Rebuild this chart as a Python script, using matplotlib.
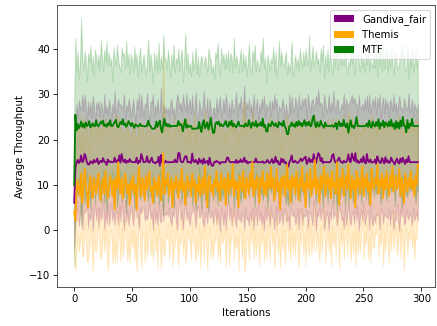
import numpy as np
import matplotlib
matplotlib.use("Agg")
import matplotlib.pyplot as plt
from matplotlib.patches import Patch

series_names = ["Gandiva_fair", "Themis", "MTF"]

mtf_mean = [
    10.0, 25.5, 22.0, 23.5, 22.5, 23.0, 24.0, 22.8, 23.5, 22.6,
    23.8, 23.0, 23.2, 24.1, 22.7, 23.0, 23.6, 23.0, 23.0, 24.3,
    23.1, 22.9, 23.4, 24.0, 23.5, 24.2, 23.0, 23.3, 22.8, 23.6,
    23.2, 24.3, 23.0, 23.0, 23.5, 23.8, 24.4, 23.1, 22.7, 23.2,
    23.9, 23.4, 24.5, 23.2, 23.6, 22.8, 23.3, 24.1, 23.5, 23.0,
    23.7, 23.0, 22.6, 23.4, 23.1, 22.9, 23.0, 23.5, 23.0, 23.0,
    23.0, 22.9, 23.0, 23.0, 24.2, 23.2, 23.0, 22.5, 22.3, 22.5,
    22.5, 24.0, 22.8, 23.6, 24.2, 22.4, 21.6, 23.3, 24.6, 23.0,
    23.5, 22.9, 23.4, 22.8, 23.0, 23.0, 23.0, 23.0, 23.0, 23.0,
    24.1, 23.2, 23.5, 23.0, 21.8, 23.4, 24.5, 22.6, 23.2, 22.8,
    23.0, 23.0, 22.4, 22.4, 22.4, 22.4, 22.5, 22.5, 23.9, 22.4,
    21.7, 23.6, 24.3, 22.5, 23.0, 23.8, 22.2, 23.2, 24.8, 22.8,
    21.5, 21.5, 23.4, 23.9, 23.4, 24.0, 23.0, 23.4, 23.0, 23.0,
    23.6, 24.1, 23.0, 22.8, 23.9, 23.2, 24.2, 22.9, 23.5, 23.0,
    22.7, 23.3, 24.0, 23.0, 23.0, 23.0, 23.1, 22.8, 23.6, 23.0,
    23.0, 24.3, 23.3, 22.6, 23.8, 23.4, 23.0, 24.1, 22.8, 23.4,
    23.1, 23.8, 23.0, 24.6, 22.8, 23.2, 21.8, 21.8, 23.5, 23.0,
    23.0, 24.0, 23.5, 23.0, 23.6, 23.0, 22.7, 23.9, 23.3, 23.6,
    23.0, 24.2, 22.9, 22.5, 21.2, 21.2, 23.0, 23.0, 23.8, 23.0,
    23.4, 22.8, 23.9, 23.0, 24.1, 23.2, 23.7, 22.9, 23.5, 24.3,
    23.0, 23.8, 23.2, 24.0, 23.0, 23.0, 24.6, 25.3, 23.5, 22.7,
    23.9, 23.0, 22.9, 24.2, 23.4, 23.0, 22.6, 23.8, 23.0, 23.0,
    23.0, 23.0, 23.0, 23.2, 22.8, 23.0, 23.7, 22.3, 23.4, 24.0,
    22.9, 23.5, 23.0, 24.4, 23.1, 22.7, 23.6, 21.5, 23.0, 24.3,
    22.8, 23.0, 22.5, 23.4, 25.0, 23.0, 23.0, 23.0, 22.9, 23.0,
    23.0, 23.0, 23.0, 23.6, 22.8, 24.2, 23.0, 22.6, 24.0, 23.2,
    22.9, 23.9, 23.0, 24.5, 22.4, 23.6, 23.1, 24.2, 22.7, 23.8,
    23.4, 22.9, 24.0, 23.0, 24.4, 22.9, 23.5, 22.3, 24.1, 22.6,
    23.8, 22.4, 24.2, 22.9, 25.0, 23.1, 23.0, 21.6, 24.3, 22.5,
    23.5, 23.0, 24.6, 23.0, 23.0, 23.0, 23.0, 23.0,
]

mtf_std = [
    18, 17, 13, 16, 11, 14, 23, 15, 12, 17,
    14, 10, 16, 13, 18, 12, 15, 11, 17, 14,
    13, 16, 12, 18, 15, 11, 17, 14, 19, 13,
    16, 12, 15, 10, 17, 14, 12, 18, 15, 13,
    11, 17, 14, 16, 12, 19, 13, 15, 11, 16,
    14, 12, 18, 13, 16, 11, 15, 17, 12, 14,
    16, 13, 11, 15, 18, 12, 16, 14, 10, 17,
    13, 15, 12, 18, 11, 16, 14, 20, 13, 15,
    12, 17, 14, 11, 16, 13, 18, 12, 15, 14,
    16, 12, 15, 17, 11, 14, 19, 13, 16, 12,
    14, 11, 17, 13, 15, 18, 12, 16, 10, 15,
    17, 13, 12, 16, 14, 11, 18, 15, 13, 12,
    15, 12, 16, 14, 18, 13, 11, 17, 14, 16,
    12, 15, 13, 17, 11, 16, 14, 12, 19, 13,
    16, 14, 11, 15, 17, 12, 16, 13, 15, 11,
    14, 17, 13, 12, 16, 14, 18, 11, 15, 13,
    12, 16, 14, 18, 13, 15, 11, 17, 14, 12,
    15, 13, 17, 12, 16, 11, 14, 18, 13, 16,
    14, 12, 15, 17, 13, 16, 12, 14, 18, 11,
    13, 16, 12, 15, 11, 17, 14, 13, 16, 12,
    17, 14, 13, 19, 12, 15, 16, 11, 14, 17,
    13, 15, 12, 16, 14, 18, 11, 15, 13, 17,
    12, 16, 14, 11, 17, 13, 15, 18, 12, 14,
    16, 13, 15, 12, 18, 14, 11, 16, 13, 15,
    14, 17, 12, 15, 13, 16, 14, 12, 17, 13,
    15, 12, 16, 13, 17, 11, 15, 14, 12, 16,
    13, 16, 11, 15, 14, 18, 12, 16, 13, 15,
    17, 12, 15, 13, 16, 14, 11, 17, 15, 13,
    12, 15, 14, 18, 13, 16, 12, 14, 17, 11,
    15, 13, 16, 12, 14, 17, 13, 15,
]

gandiva_mean = [
    6.0, 13.5, 15.0, 15.5, 14.8, 15.2, 16.5, 15.0, 15.3, 16.8,
    16.2, 15.0, 14.5, 14.5, 15.2, 15.0, 14.7, 15.5, 15.0, 15.2,
    15.8, 14.6, 15.0, 15.3, 15.0, 15.9, 15.1, 15.0, 14.4, 15.6,
    15.0, 15.2, 15.0, 15.0, 15.0, 16.0, 15.0, 15.4, 15.0, 16.5,
    14.9, 16.8, 15.4, 15.0, 15.6, 14.8, 15.3, 15.0, 15.7, 15.2,
    15.0, 15.0, 15.0, 15.0, 16.0, 14.7, 15.3, 15.0, 16.8, 15.9,
    15.0, 15.0, 15.2, 16.3, 15.0, 14.9, 15.4, 16.0, 15.0, 15.0,
    14.7, 15.0, 15.0, 16.2, 14.2, 16.6, 15.0, 15.0, 14.8, 15.3,
    15.0, 15.0, 15.0, 15.0, 15.0, 15.0, 15.0, 15.6, 15.0, 15.0,
    17.0, 17.0, 15.2, 15.0, 15.0, 15.7, 16.3, 16.3, 15.0, 15.0,
    15.0, 14.8, 16.9, 15.2, 15.0, 15.5, 15.0, 14.6, 15.8, 15.0,
    15.4, 14.6, 15.8, 14.8, 15.0, 15.3, 14.4, 16.0, 14.8, 14.2,
    14.2, 15.0, 15.0, 15.3, 15.0, 15.0, 14.6, 15.0, 15.0, 15.0,
    15.0, 15.0, 16.0, 16.0, 15.2, 15.0, 15.0, 15.0, 15.0, 14.9,
    15.5, 14.8, 15.2, 15.0, 15.6, 15.0, 15.1, 16.0, 15.0, 15.3,
    14.7, 15.0, 15.0, 15.0, 15.0, 15.0, 15.0, 15.8, 15.0, 15.0,
    15.0, 15.0, 15.0, 15.2, 14.8, 15.0, 15.0, 15.5, 15.0, 14.8,
    15.2, 15.7, 14.8, 15.0, 16.2, 15.0, 15.3, 14.5, 14.5, 15.8,
    15.0, 15.6, 14.8, 15.0, 14.0, 14.0, 15.0, 15.5, 16.5, 15.0,
    15.0, 15.3, 15.0, 14.8, 15.0, 15.4, 15.8, 15.2, 15.6, 16.0,
    16.2, 14.6, 15.2, 15.9, 15.0, 15.5, 15.0, 16.8, 15.4, 14.8,
    16.0, 17.0, 16.6, 15.2, 15.9, 14.8, 15.0, 15.0, 15.0, 15.0,
    15.0, 15.0, 15.3, 16.5, 16.8, 15.4, 14.9, 15.0, 15.6, 16.0,
    15.2, 15.0, 14.8, 15.3, 15.0, 15.0, 15.5, 16.7, 15.2, 15.0,
    16.9, 16.0, 15.3, 17.0, 15.0, 15.4, 14.8, 15.0, 15.7, 15.0,
    16.3, 15.0, 14.7, 16.8, 15.2, 15.0, 15.6, 14.9, 15.0, 15.0,
    15.6, 14.6, 16.3, 15.4, 15.0, 14.8, 15.9, 15.4, 14.7, 16.1,
    15.0, 15.4, 14.8, 15.0, 16.0, 15.3, 15.0, 14.5, 15.2, 15.8,
    15.0, 14.7, 15.8, 15.0, 16.0, 15.2, 14.6, 15.6, 15.0, 16.3,
    15.0, 15.0, 15.0, 15.0, 15.0, 15.0, 15.0, 15.0,
]

gandiva_std = [
    10, 11, 13, 9, 14, 12, 10, 15, 11, 13,
    12, 9, 14, 11, 13, 10, 15, 12, 9, 13,
    11, 14, 10, 13, 12, 9, 15, 11, 13, 10,
    14, 12, 9, 13, 11, 15, 10, 12, 14, 11,
    13, 10, 12, 15, 9, 13, 11, 14, 12, 10,
    12, 14, 11, 9, 13, 12, 15, 10, 13, 11,
    10, 13, 12, 14, 11, 9, 13, 12, 15, 10,
    13, 11, 14, 10, 12, 15, 9, 13, 11, 12,
    11, 12, 10, 13, 14, 11, 12, 9, 13, 15,
    12, 10, 13, 11, 15, 12, 10, 14, 11, 13,
    14, 11, 13, 10, 12, 15, 11, 9, 13, 12,
    10, 13, 15, 12, 11, 14, 9, 13, 12, 10,
    13, 12, 10, 14, 11, 13, 15, 10, 12, 14,
    11, 15, 12, 9, 13, 10, 14, 12, 11, 13,
    15, 10, 13, 12, 14, 11, 12, 16, 10, 13,
    12, 14, 11, 13, 10, 15, 12, 11, 14, 9,
    13, 11, 14, 12, 15, 10, 13, 11, 12, 14,
    10, 13, 12, 15, 11, 14, 9, 13, 12, 11,
    14, 12, 10, 13, 12, 11, 15, 10, 13, 12,
    11, 14, 13, 10, 15, 12, 11, 14, 12, 13,
    13, 10, 15, 12, 11, 13, 14, 10, 12, 15,
    12, 14, 11, 13, 12, 10, 15, 13, 11, 12,
    15, 11, 13, 10, 14, 12, 11, 14, 13, 10,
    11, 13, 12, 15, 10, 14, 12, 11, 13, 14,
    13, 12, 14, 11, 13, 10, 15, 12, 11, 13,
    10, 14, 12, 13, 11, 15, 10, 13, 14, 12,
    14, 11, 13, 12, 15, 10, 12, 14, 11, 13,
    12, 13, 10, 14, 12, 11, 15, 12, 13, 10,
    13, 15, 11, 12, 10, 14, 13, 11, 12, 14,
    11, 12, 14, 10, 13, 12, 11, 13,
]

themis_mean = [
    4.0, 2.0, 8.5, 11.0, 9.0, 7.5, 12.5, 6.0, 9.5, 13.5,
    10.5, 8.0, 5.0, 10.0, 12.0, 9.0, 7.0, 11.5, 9.5, 8.0,
    11.0, 12.5, 8.5, 6.5, 10.0, 11.5, 8.0, 13.0, 9.5, 7.0,
    9.5, 12.0, 10.5, 7.5, 11.0, 4.5, 11.5, 9.0, 15.0, 10.0,
    8.0, 11.5, 7.0, 9.5, 12.5, 10.5, 8.0, 10.0, 5.5, 11.0,
    9.0, 12.0, 8.0, 10.0, 4.5, 10.5, 14.0, 9.5, 7.5, 11.5,
    10.0, 6.5, 12.0, 9.0, 11.0, 13.0, 8.5, 9.5, 6.0, 11.5,
    9.0, 10.5, 7.5, 12.0, 9.5, 6.5, 10.0, 17.0, 8.0, 11.0,
    10.0, 12.5, 7.5, 9.5, 11.5, 5.0, 10.5, 9.0, 12.0, 10.0,
    7.0, 11.0, 9.0, 13.5, 8.5, 10.5, 5.5, 10.0, 12.0, 9.0,
    10.5, 7.5, 12.5, 9.5, 11.0, 6.0, 10.0, 8.5, 12.0, 7.5,
    10.0, 11.5, 8.0, 14.0, 9.5, 5.0, 11.0, 12.0, 8.5, 10.0,
    7.5, 11.0, 9.5, 13.0, 8.5, 10.5, 6.5, 12.5, 10.0, 9.0,
    11.5, 5.5, 10.0, 12.5, 8.0, 11.0, 9.5, 14.5, 7.5, 11.0,
    9.0, 10.5, 5.0, 12.0, 10.0, 8.5, 13.0, 9.5, 7.0, 11.5,
    10.0, 8.0, 12.5, 9.5, 15.0, 7.5, 11.0, 9.0, 12.0, 10.0,
    6.0, 11.5, 9.5, 13.0, 8.0, 10.5, 7.5, 12.5, 10.0, 9.0,
    14.0, 9.5, 11.5, 6.5, 10.0, 13.5, 8.5, 10.5, 4.5, 11.5,
    9.5, 12.0, 7.5, 10.0, 14.5, 9.0, 11.0, 6.0, 12.0, 9.5,
    11.5, 8.0, 13.0, 10.0, 6.5, 11.5, 9.5, 14.0, 8.5, 10.5,
    5.0, 12.5, 10.0, 9.0, 13.5, 7.5, 11.0, 9.5, 15.5, 8.0,
    11.5, 10.0, 6.0, 12.0, 9.0, 11.0, 14.0, 7.5, 10.0, 12.5,
    9.0, 11.5, 7.0, 13.0, 9.5, 10.5, 8.0, 15.0, 10.0, 5.5,
    11.5, 9.5, 13.5, 7.5, 10.5, 12.0, 9.0, 14.5, 10.0, 7.0,
    12.0, 9.0, 11.0, 5.0, 13.0, 9.5, 11.5, 8.0, 10.5, 14.0,
    7.5, 11.5, 9.5, 12.5, 8.5, 10.5, 5.5, 13.5, 10.0, 9.0,
    11.5, 10.0, 14.5, 8.0, 11.0, 9.5, 12.5, 7.0, 11.5, 9.0,
    13.0, 10.0, 7.5, 12.0, 9.5, 14.0, 8.5, 10.5, 12.0, 9.0,
    10.0, 13.5, 7.5, 11.5, 9.5, 6.0, 12.5, 10.5, 8.5, 11.5,
    9.5, 13.0, 9.0, 11.0, 7.5, 12.0, 10.0, 14.5,
]

themis_std = [
    9, 11, 13, 12, 14, 10, 13, 12, 15, 11,
    13, 15, 12, 14, 11, 13, 16, 12, 14, 13,
    12, 10, 14, 13, 15, 11, 13, 12, 14, 16,
    14, 12, 11, 15, 13, 12, 14, 16, 10, 13,
    15, 11, 13, 12, 10, 14, 15, 12, 13, 11,
    13, 12, 15, 11, 14, 13, 10, 14, 16, 12,
    11, 14, 12, 15, 13, 11, 14, 12, 13, 10,
    14, 12, 16, 11, 13, 15, 12, 22, 14, 12,
    12, 11, 14, 13, 10, 13, 15, 12, 11, 14,
    15, 13, 12, 11, 14, 12, 13, 15, 12, 11,
    13, 14, 11, 12, 15, 13, 12, 14, 11, 16,
    12, 11, 15, 13, 12, 14, 13, 11, 15, 12,
    14, 13, 12, 10, 15, 12, 14, 12, 13, 11,
    11, 14, 13, 12, 16, 13, 12, 10, 14, 12,
    13, 12, 14, 11, 12, 15, 13, 19, 14, 13,
    12, 15, 11, 13, 12, 14, 11, 15, 12, 13,
    14, 11, 13, 12, 15, 12, 14, 11, 13, 16,
    10, 13, 12, 15, 13, 11, 14, 12, 13, 11,
    14, 12, 15, 13, 11, 14, 12, 13, 11, 15,
    12, 14, 11, 13, 15, 12, 13, 10, 14, 12,
    13, 11, 14, 15, 12, 13, 12, 14, 10, 13,
    12, 14, 13, 11, 14, 12, 10, 15, 13, 12,
    14, 12, 15, 12, 13, 11, 14, 10, 12, 14,
    11, 13, 12, 14, 12, 10, 15, 12, 13, 14,
    13, 14, 11, 13, 12, 15, 12, 13, 11, 10,
    14, 12, 13, 11, 15, 12, 13, 12, 14, 13,
    12, 11, 10, 14, 12, 13, 11, 15, 12, 14,
    11, 13, 15, 12, 14, 10, 13, 12, 11, 15,
    13, 12, 14, 11, 13, 15, 12, 11, 14, 12,
    12, 11, 13, 12, 14, 13, 12, 10,
]

colors = ["purple", "orange", "green"]
means = [gandiva_mean, themis_mean, mtf_mean]
stds = [gandiva_std, themis_std, mtf_std]

for m, s in zip(means, stds):
    assert len(m) == len(s) == len(mtf_mean), (len(m), len(s))

W, H, DPI = 437, 326, 72.8
fig = plt.figure(figsize=(W / DPI, H / DPI), dpi=DPI)
ax = fig.add_axes([57 / W, 1 - 287 / H, (435 - 57) / W, (287 - 5) / H])

x = np.arange(len(mtf_mean))
for m, s, c in zip(means, stds, colors):
    m = np.asarray(m, float)
    s = np.asarray(s, float)
    ax.fill_between(x, m - s, m + s, color=c, alpha=0.2)
for m, c in zip(means, colors):
    ax.plot(x, m, color=c, lw=1.8)

for sp in ax.spines.values():
    sp.set_color("#333333")

ax.set_ylim(-12.65, 49.8)
ax.set_xticks([0, 50, 100, 150, 200, 250, 300])
ax.set_yticks([-10, 0, 10, 20, 30, 40])
ax.set_xlabel("Iterations")
ax.set_ylabel("Average Throughput")

handles = [Patch(facecolor=c, label=n) for c, n in zip(colors, series_names)]
ax.legend(handles=handles, loc="upper right")

fig.savefig("out.png", dpi=DPI)
